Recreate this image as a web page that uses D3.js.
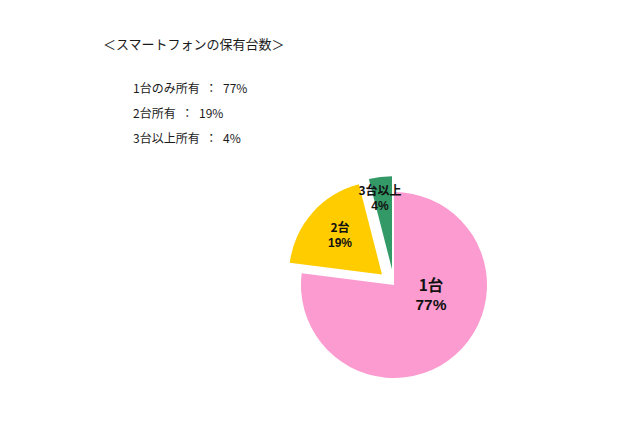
<!DOCTYPE html>
<html>
<head>
    <meta charset="utf-8">
    <title>スマートフォンの保有台数</title>
    <style>
        body {
            margin: 0;
            background: #ffffff;
        }

        svg {
            display: block;
        }

        .note {
            font-family: "Noto Sans CJK JP", sans-serif;
            fill: #1a1a1a;
        }

        .slice-label {
            font-family: "Noto Sans CJK JP", sans-serif;
            font-weight: bold;
            fill: #111;
        }

        .slice-label.pct {
            font-family: "Liberation Sans", Arial, sans-serif;
        }
    </style>
    <script src="https://d3js.org/d3.v7.min.js"></script>
</head>
<body>
<div id="chart"></div>
<script>
    // データ
    const title = "＜スマートフォンの保有台数＞";
    const categories = ["1台", "2台", "3台以上"];
    const values = [77, 19, 4];
    const noteLabels = ["1台のみ所有 ： 77%", "2台所有 ： 19%", "3台以上所有 ： 4%"];

    const colors = ["#fb9bcf", "#ffcc00", "#339966"];
    const explode = [0, 16, 16];
    // ラベルの位置（円の中心からのずれ）
    const labelOffsets = [[37, 9], [-54, -51], [-14, -88]];
    const labelSizes = [15.5, 12, 12];

    const width = 640, height = 426;
    const cx = 394, cy = 285, radius = 93;

    const svg = d3.select("#chart").append("svg")
        .attr("width", width)
        .attr("height", height);

    // タイトルと説明
    svg.append("text")
        .attr("class", "note")
        .attr("x", 103)
        .attr("y", 49)
        .style("font-size", "13px")
        .text(title);

    svg.append("g")
        .selectAll("text")
        .data(noteLabels)
        .join("text")
        .attr("class", "note")
        .attr("x", 133)
        .attr("y", (d, i) => 93 + i * 25)
        .style("font-size", "12px")
        .style("word-spacing", "3px")
        .text(d => d);

    // 円グラフ
    const pie = d3.pie().sort(null).value(d => d.value);
    const arcs = pie(categories.map((c, i) => ({name: c, value: values[i], idx: i})));
    const arc = d3.arc().innerRadius(0).outerRadius(radius);

    const pieG = svg.append("g")
        .attr("transform", `translate(${cx},${cy})`);

    pieG.selectAll("path")
        .data(arcs)
        .join("path")
        .attr("d", arc)
        .attr("fill", d => colors[d.data.idx])
        .attr("transform", d => {
            const a = (d.startAngle + d.endAngle) / 2;
            const e = explode[d.data.idx];
            return `translate(${Math.sin(a) * e},${-Math.cos(a) * e})`;
        });

    // ラベル：カテゴリ名と割合
    const labels = pieG.selectAll("g.lbl")
        .data(arcs)
        .join("g")
        .attr("class", "lbl")
        .attr("transform", d => `translate(${labelOffsets[d.data.idx][0]},${labelOffsets[d.data.idx][1]})`);

    labels.append("text")
        .attr("class", "slice-label")
        .attr("text-anchor", "middle")
        .attr("y", d => -labelSizes[d.data.idx] * 0.2)
        .style("font-size", d => labelSizes[d.data.idx] + "px")
        .text(d => d.data.name);

    labels.append("text")
        .attr("class", "slice-label pct")
        .attr("text-anchor", "middle")
        .attr("y", d => labelSizes[d.data.idx] * 1.05)
        .style("font-size", d => labelSizes[d.data.idx] + "px")
        .text(d => d.data.value + "%");
</script>
</body>
</html>
